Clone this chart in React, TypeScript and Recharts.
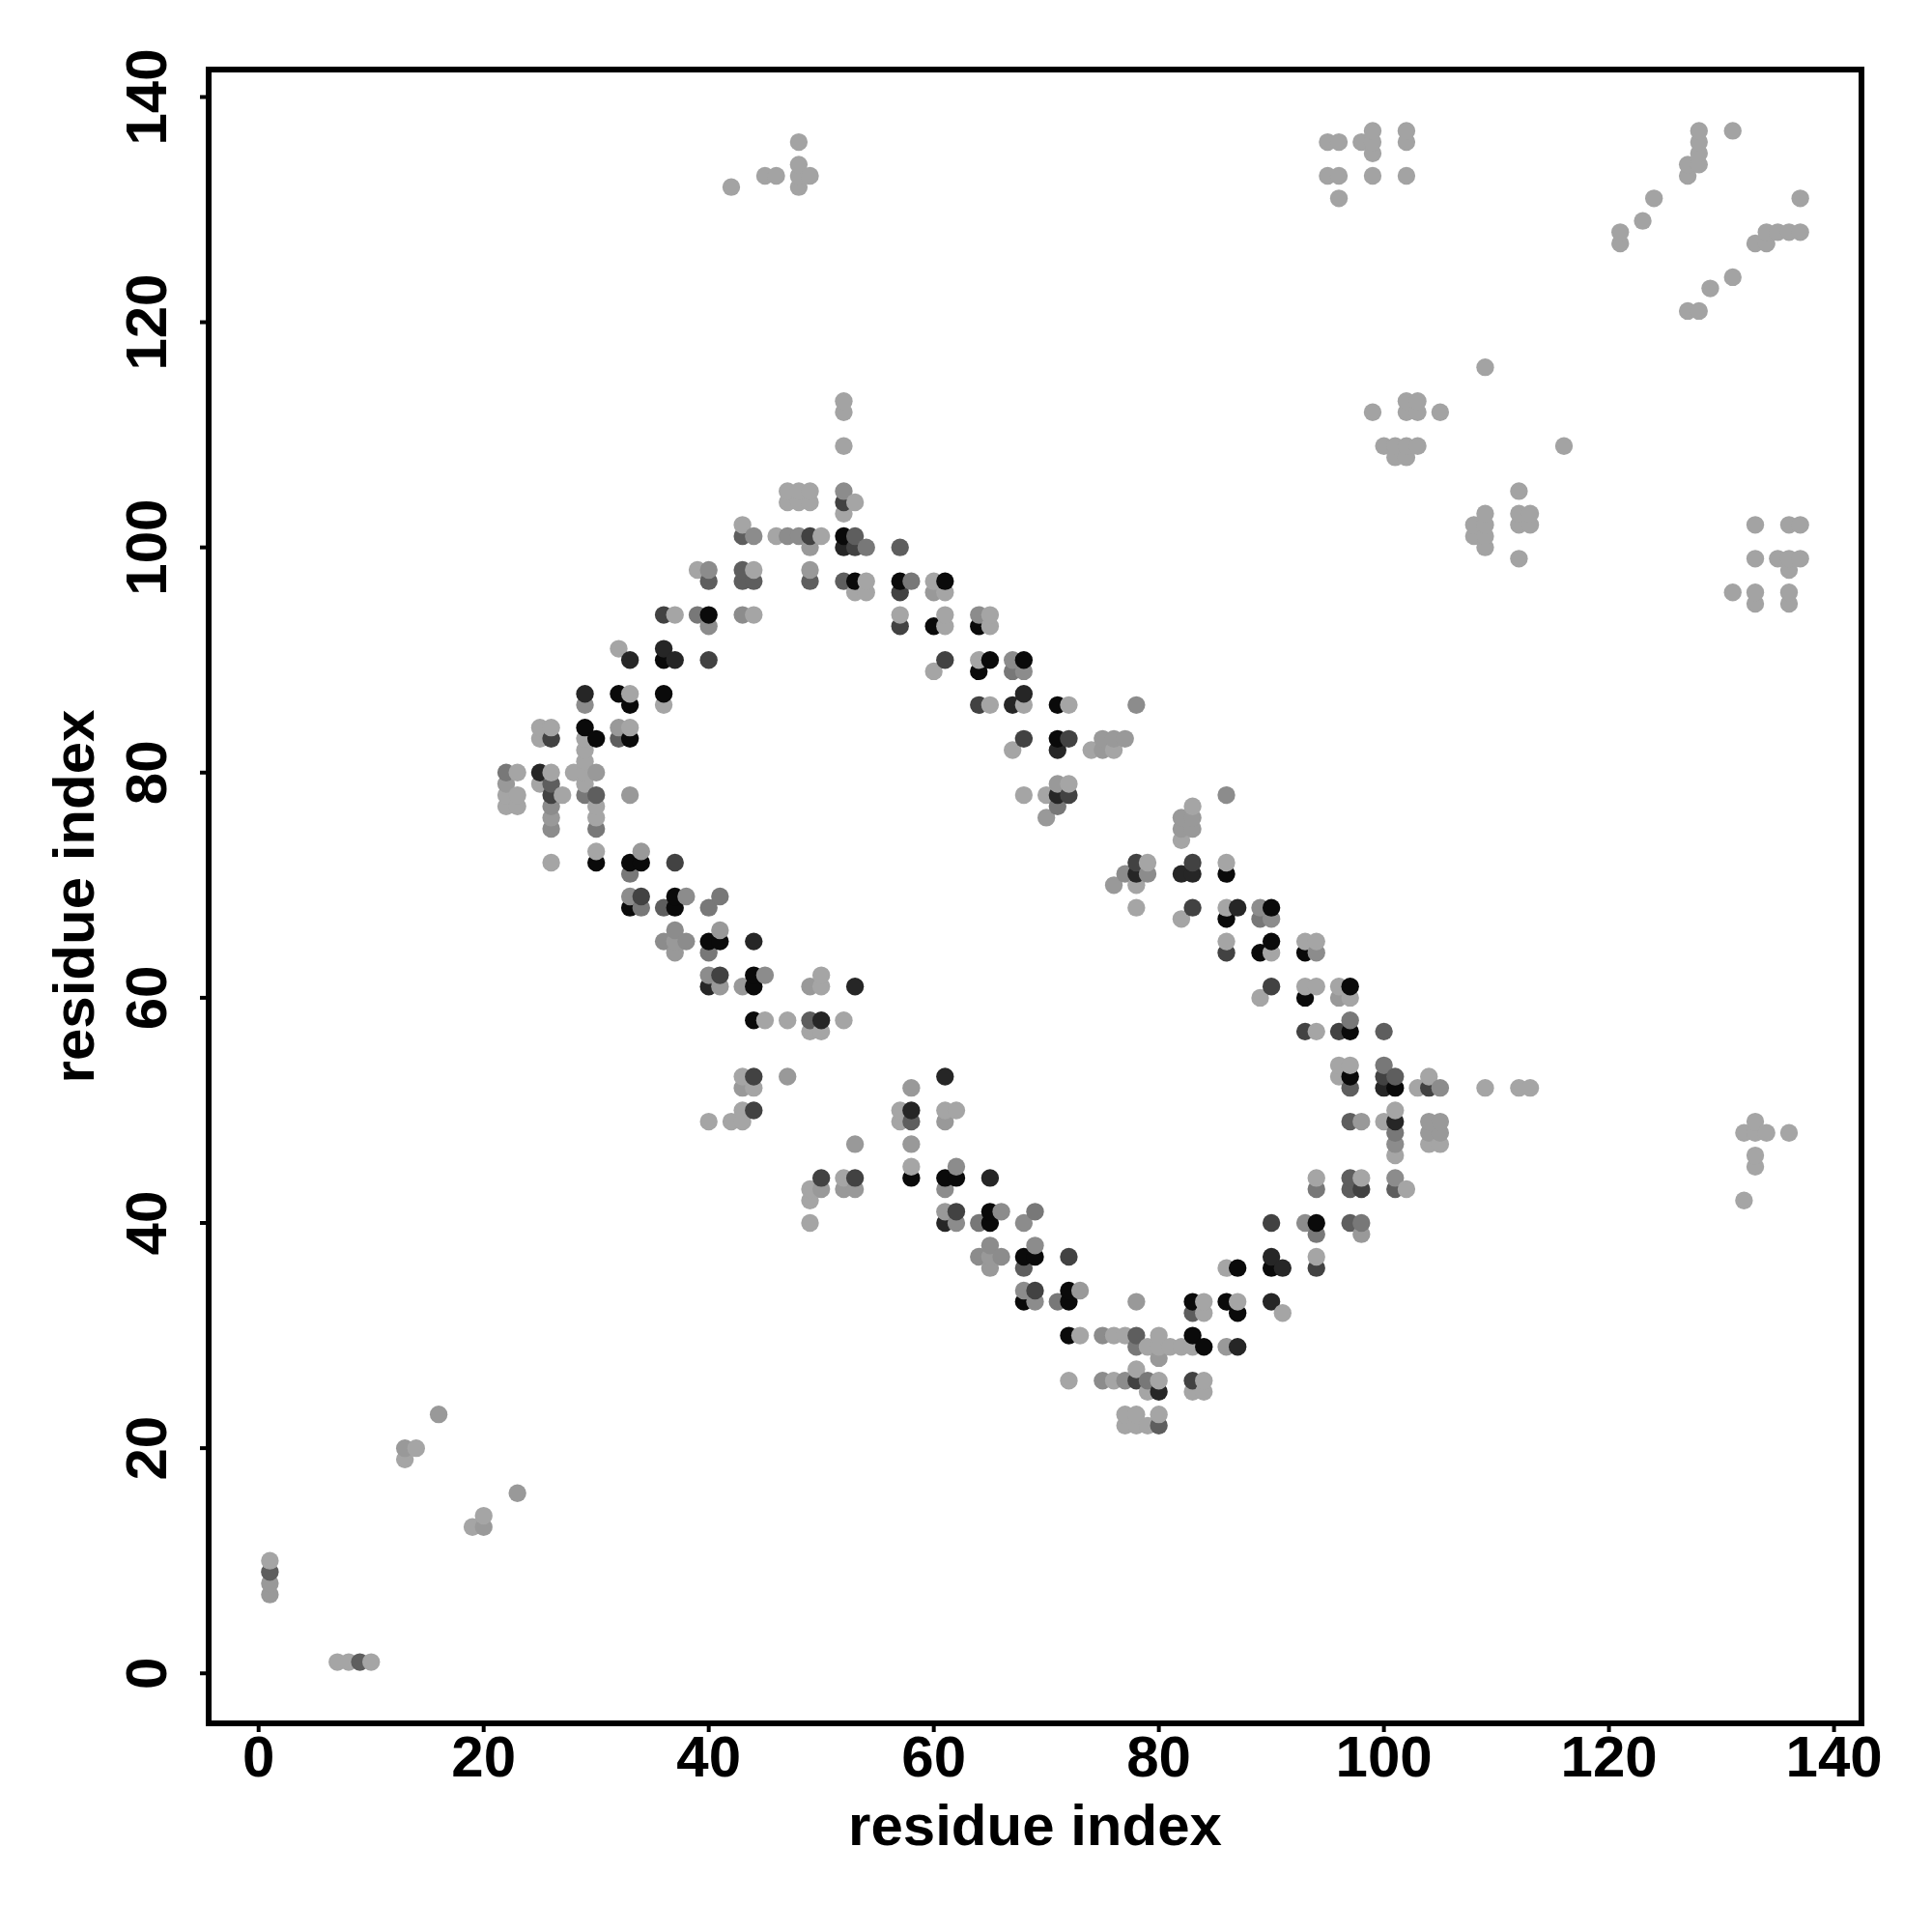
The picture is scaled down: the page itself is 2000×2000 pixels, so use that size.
import { ScatterChart, Scatter, XAxis, YAxis, ZAxis, Cell, Label, ReferenceArea } from "recharts";

type Contact = [number, number];

const axisTicks = [0, 20, 40, 60, 80, 100, 120, 140];
const axisMin = -4.44;
const axisMax = 142.44;

const FONT = "'Liberation Sans', Arial, sans-serif";

// contacts (i, j) grouped by how dark the dot is
const darkest: Contact[] = [
  [52, 101], [53, 97], [57, 97], [61, 97], [40, 94], [60, 93], [64, 93], [36, 90], [65, 90], [68, 90], [64, 89], [32, 87],
  [36, 87], [33, 86], [71, 86], [29, 84], [30, 83], [33, 83], [71, 83], [30, 72], [33, 72], [34, 72], [86, 71], [37, 69],
  [33, 68], [37, 68], [90, 68], [86, 67], [40, 65], [41, 65], [90, 65], [89, 64], [93, 64], [44, 62], [44, 61], [97, 61],
  [93, 60], [44, 58], [97, 57], [97, 53], [101, 52], [58, 44], [61, 44], [62, 44], [65, 41], [65, 40], [94, 40], [68, 37],
  [69, 37], [87, 36], [90, 36], [72, 34], [68, 33], [72, 33], [83, 33], [86, 33], [87, 32], [72, 30], [83, 30], [84, 29],
];
const veryDark: Contact[] = [
  [52, 100], [36, 91], [33, 90], [37, 90], [29, 87], [68, 87], [67, 86], [25, 80], [71, 82], [71, 78], [78, 71], [82, 71],
  [83, 71], [87, 68], [44, 65], [40, 61], [53, 61], [50, 58], [61, 53], [100, 52], [58, 50], [101, 49], [65, 44], [61, 40],
  [90, 37], [91, 36], [90, 33], [87, 29], [80, 25],
];
const dark: Contact[] = [
  [49, 101], [52, 104], [53, 100], [57, 96], [36, 94], [57, 93], [40, 90], [61, 90], [64, 86], [26, 83], [68, 83], [72, 83],
  [26, 78], [72, 78], [37, 72], [78, 72], [83, 72], [34, 69], [83, 68], [86, 64], [41, 62], [90, 61], [93, 57], [96, 57],
  [44, 53], [100, 53], [104, 52], [44, 50], [50, 44], [53, 44], [98, 43], [62, 41], [90, 40], [72, 37], [94, 36], [69, 34],
  [78, 26], [83, 26],
];
const midDark: Contact[] = [
  [1, 9], [9, 1], [43, 101], [53, 101], [57, 100], [43, 98], [40, 97], [43, 97], [44, 97], [49, 97], [52, 97], [32, 83],
  [26, 79], [30, 78], [36, 68], [49, 58], [100, 57], [101, 53], [97, 52], [58, 49], [97, 49], [97, 44], [97, 43], [101, 43],
  [97, 40], [68, 36], [83, 32], [78, 30], [80, 22],
];
const mid: Contact[] = [
  [54, 100], [58, 97], [39, 94], [67, 89], [22, 80], [29, 78], [71, 77], [30, 75], [33, 71], [41, 69], [34, 68], [40, 68],
  [89, 67], [40, 64], [97, 58], [100, 54], [101, 48], [94, 43], [69, 41], [64, 40], [98, 40], [94, 39], [71, 33], [78, 29],
  [79, 26],
];
const midLight: Contact[] = [
  [52, 105], [44, 101], [47, 101], [48, 101], [40, 98], [43, 94], [64, 94], [40, 93], [67, 90], [68, 89], [29, 86], [78, 86],
  [86, 78], [26, 77], [26, 75], [77, 71], [79, 71], [33, 69], [38, 69], [89, 68], [90, 67], [37, 66], [36, 65], [38, 65],
  [94, 64], [40, 62], [45, 62], [105, 52], [101, 47], [62, 45], [101, 44], [61, 43], [66, 41], [62, 40], [68, 40], [93, 40],
  [65, 38], [69, 38], [64, 37], [66, 37], [68, 34], [69, 33], [75, 30], [75, 26], [77, 26],
];
const light: Contact[] = [
  [1, 8], [1, 7], [13, 20], [16, 23], [20, 13], [23, 16], [49, 100], [49, 98], [60, 96], [32, 84], [30, 80], [22, 79],
  [33, 78], [26, 76], [70, 76], [82, 76], [83, 76], [82, 75], [83, 75], [75, 83], [76, 83], [77, 83], [75, 82], [71, 79],
  [34, 73], [76, 70], [41, 66], [37, 65], [37, 64], [41, 61], [43, 61], [49, 61], [96, 60], [43, 52], [58, 52], [47, 53],
  [61, 49], [98, 49], [104, 49], [105, 49], [104, 48], [105, 48], [53, 47], [58, 47], [50, 43], [52, 43], [53, 43], [61, 41],
  [98, 39], [65, 37], [65, 36], [73, 34], [78, 33], [86, 29], [80, 28],
];
const palest: Contact[] = [
  [7, 1], [8, 1], [10, 1], [1, 10], [13, 19], [14, 20], [19, 13], [20, 14], [47, 105], [48, 105], [49, 105], [47, 104],
  [48, 104], [49, 104], [53, 104], [52, 103], [43, 102], [46, 101], [50, 101], [39, 98], [44, 98], [54, 97], [60, 97],
  [53, 96], [54, 96], [61, 96], [37, 94], [44, 94], [57, 94], [61, 94], [65, 94], [61, 93], [65, 93], [32, 91], [64, 90],
  [60, 89], [33, 87], [36, 86], [65, 86], [68, 86], [72, 86], [25, 84], [26, 84], [33, 84], [25, 83], [29, 83], [29, 82],
  [67, 82], [74, 82], [76, 82], [29, 81], [23, 80], [26, 80], [28, 80], [29, 80], [25, 79], [29, 79], [72, 79], [22, 78],
  [23, 78], [27, 78], [68, 78], [70, 78], [22, 77], [23, 77], [30, 77], [83, 77], [30, 76], [82, 74], [30, 73], [26, 72],
  [79, 72], [86, 72], [78, 70], [78, 68], [86, 68], [82, 67], [86, 65], [93, 65], [94, 65], [90, 64], [50, 62], [50, 61],
  [93, 61], [94, 61], [96, 61], [89, 60], [97, 60], [45, 58], [47, 58], [52, 58], [49, 57], [50, 57], [94, 57], [96, 54],
  [97, 54], [43, 53], [96, 53], [104, 53], [44, 52], [103, 52], [109, 52], [112, 52], [113, 52], [43, 50], [57, 50], [61, 50],
  [62, 50], [101, 50], [40, 49], [42, 49], [43, 49], [57, 49], [100, 49], [132, 48], [133, 48], [134, 48], [136, 48], [133, 49],
  [104, 47], [105, 47], [101, 46], [133, 46], [58, 45], [133, 45], [52, 44], [94, 44], [98, 44], [49, 43], [102, 43], [49, 42],
  [132, 42], [49, 40], [94, 37], [86, 36], [84, 33], [87, 33], [84, 32], [91, 32], [73, 30], [76, 30], [77, 30], [80, 30],
  [79, 29], [80, 29], [81, 29], [82, 29], [83, 29], [78, 27], [72, 26], [76, 26], [80, 26], [84, 26], [79, 25], [83, 25],
  [84, 25], [77, 23], [78, 23], [80, 23], [77, 22], [78, 22], [79, 22],
];
const palestUpper: Contact[] = [
  [48, 136], [48, 134], [48, 133], [49, 133], [48, 132], [45, 133], [46, 133], [42, 132], [95, 136], [96, 136], [98, 136],
  [99, 137], [99, 136], [99, 135], [102, 137], [102, 136], [95, 133], [96, 133], [99, 133], [102, 133], [96, 131], [128, 137],
  [131, 137], [128, 136], [128, 135], [127, 134], [128, 134], [127, 133], [124, 131], [123, 129], [121, 128], [121, 127],
  [134, 128], [135, 128], [136, 128], [137, 128], [137, 131], [133, 127], [134, 127], [131, 124], [129, 123], [127, 121],
  [128, 121], [52, 113], [52, 112], [52, 109], [109, 116], [102, 113], [103, 113], [102, 112], [103, 112], [99, 112],
  [105, 112], [100, 109], [101, 109], [102, 109], [103, 109], [101, 108], [102, 108], [116, 109], [112, 105], [109, 103],
  [108, 102], [109, 102], [108, 101], [109, 101], [109, 100], [112, 103], [113, 103], [112, 102], [113, 102], [112, 99],
  [133, 102], [136, 102], [137, 102], [133, 99], [135, 99], [136, 99], [137, 99], [136, 98], [131, 96], [133, 96], [136, 96],
  [133, 95], [136, 95],
];

const shades: [Contact[], string][] = [
  [darkest, "#0a0a0a"],
  [veryDark, "#262626"],
  [dark, "#424242"],
  [midDark, "#5e5e5e"],
  [mid, "#787878"],
  [midLight, "#8c8c8c"],
  [light, "#999999"],
  [palest, "#a5a5a5"],
  [palestUpper, "#a3a3a3"],
];

// later points sit on top, ordered by x then y like the original plot
const contacts = shades
  .flatMap(([points, fill]) => points.map(([x, y]) => ({ x, y, fill })))
  .sort((a, b) => a.x - b.x || a.y - b.y);

const YTick = ({ x, y, payload }: any) => (
  <text
    x={x - 33}
    y={y}
    transform={`rotate(-90 ${x - 33} ${y})`}
    textAnchor="middle"
    fontFamily={FONT}
    fontWeight={700}
    fontSize={60}
    fill="#000"
  >
    {payload.value}
  </text>
);

export default function App() {
  return (
    <div style={{ position: "absolute", left: 0, top: 0, width: 2000, height: 2000, background: "#fff" }}>
      <ScatterChart width={2000} height={2000} margin={{ top: 72, right: 73, bottom: 0, left: 0 }}>
        <XAxis
          dataKey="x"
          type="number"
          domain={[axisMin, axisMax]}
          ticks={axisTicks}
          interval={0}
          height={216}
          axisLine={false}
          tickSize={9}
          tickLine={{ stroke: "#000", strokeWidth: 4 }}
          tick={{ fill: "#000", fontFamily: FONT, fontWeight: 700, fontSize: 60 }}
          tickMargin={3}
        >
          <Label
            value="residue index"
            position="insideBottom"
            offset={90}
            fill="#000"
            fontFamily={FONT}
            fontWeight={700}
            fontSize={60}
          />
        </XAxis>
        <YAxis
          dataKey="y"
          type="number"
          domain={[axisMin, axisMax]}
          ticks={axisTicks}
          interval={0}
          width={216}
          axisLine={false}
          tickSize={9}
          tickLine={{ stroke: "#000", strokeWidth: 4 }}
          tick={<YTick />}
        >
          <Label
            value="residue index"
            position="insideLeft"
            angle={-90}
            offset={76}
            textAnchor="middle"
            fill="#000"
            fontFamily={FONT}
            fontWeight={700}
            fontSize={60}
          />
        </YAxis>
        <ZAxis dataKey="x" range={[265, 265]} />
        <ReferenceArea
          x1={axisMin}
          x2={axisMax}
          y1={axisMin}
          y2={axisMax}
          fill="none"
          stroke="#000"
          strokeWidth={6}
        />
        <Scatter data={contacts} isAnimationActive={false}>
          {contacts.map((c, i) => (
            <Cell key={i} fill={c.fill} />
          ))}
        </Scatter>
      </ScatterChart>
    </div>
  );
}
